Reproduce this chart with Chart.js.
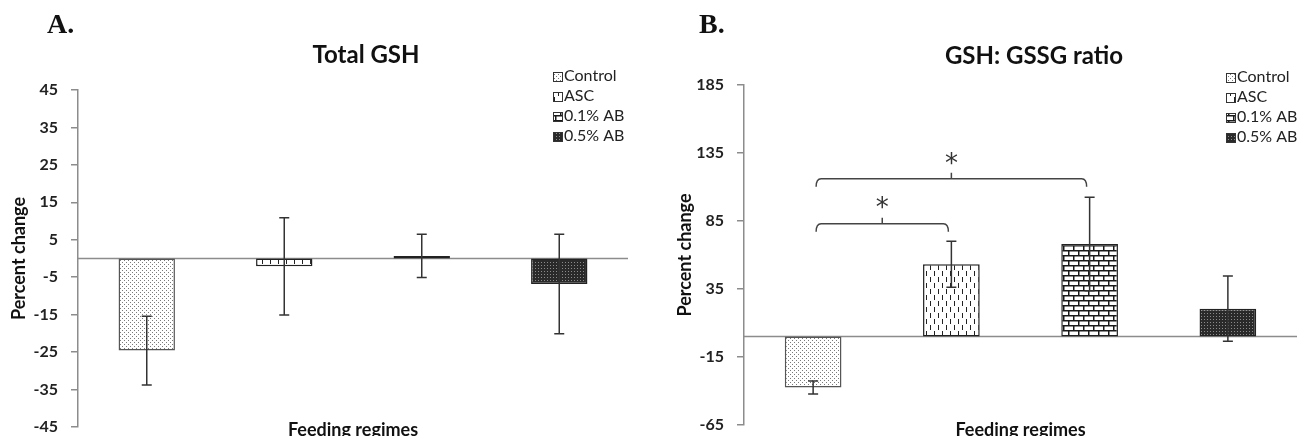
<!DOCTYPE html>
<html>
<head>
<meta charset="utf-8">
<script src="https://cdn.jsdelivr.net/npm/chart.js@4.4.0/dist/chart.umd.min.js"></script>
<style>
  html, body { margin: 0; padding: 0; background: #fff; overflow: hidden; }
  canvas { position: absolute; top: 0; }
  #chartA { left: 0; }
  #chartB { left: 648px; }
</style>
</head>
<body>
<canvas id="chartA" width="648" height="436"></canvas>
<canvas id="chartB" width="649" height="436"></canvas>
<script>
// Feeding regimes, same four groups in both panels
const regimes = ['Control', 'ASC', '0.1% AB', '0.5% AB']

// A. Total GSH (percent change, mean and SE)
const gshMean = [-24.6, -2.1, 0.7, -6.8]
const gshErr = [9.2, 13, 5.8, 13.3]
const gshTicks = [45, 35, 25, 15, 5, -5, -15, -25, -35, -45]

// B. GSH:GSSG ratio
const ratioMean = [-37.4, 53.2, 68.1, 20.5]
const ratioErr = [4.8, 17, 34.3, 24]
const ratioTicks = [185, 135, 85, 35, -15, -65]

// significance brackets in panel B (category index from/to, bracket height)
const sigFrom = [0, 0]
const sigTo = [1, 2]
const sigLevel = [83, 116]

Chart.defaults.font.family = "'Lato', sans-serif"
Chart.defaults.color = '#222'

function makePattern(w, h, bg, draw) {
  const c = document.createElement('canvas')
  c.width = w
  c.height = h
  const p = c.getContext('2d')
  p.fillStyle = bg
  p.fillRect(0, 0, w, h)
  draw(p)
  return p.createPattern(c, 'repeat')
}

// hatch fills, roughly like the Excel patterns
const fills = [
  makePattern(4, 4, '#fff', p => {
    p.fillStyle = '#7a7a7a'
    p.fillRect(0, 0, 1, 1)
    p.fillRect(2, 2, 1, 1)
  }),
  makePattern(8, 12, '#fff', p => {
    p.fillStyle = '#222'
    p.fillRect(2, 1, 1, 5)
    p.fillRect(6, 7, 1, 5)
  }),
  makePattern(10, 10, '#fff', p => {
    p.fillStyle = '#1a1a1a'
    p.fillRect(0, 0, 10, 1.5)
    p.fillRect(0, 5, 10, 1.5)
    p.fillRect(0, 0, 1.5, 5)
    p.fillRect(5, 5, 1.5, 5)
  }),
  makePattern(3, 3, '#2a2a2a', p => {
    p.fillStyle = '#8a8a8a'
    p.fillRect(1, 1, 1, 1)
  })
]

function decorations(cfg) {
  return {
    id: 'decorations',
    beforeDatasetsDraw(chart) {
      const { ctx, chartArea, scales: { y } } = chart
      const y0 = y.getPixelForValue(0)
      ctx.save()
      ctx.strokeStyle = '#8c8c8c'
      ctx.lineWidth = 1.5
      ctx.beginPath()
      ctx.moveTo(chartArea.left, y0)
      ctx.lineTo(chartArea.right, y0)
      ctx.stroke()
      ctx.restore()
    },
    afterDatasetsDraw(chart) {
      const { ctx, scales: { x, y } } = chart
      const mean = chart.data.datasets[0].data
      ctx.save()
      ctx.strokeStyle = '#333'
      ctx.lineWidth = 1.5
      mean.forEach((m, i) => {
        const cx = x.getPixelForValue(i)
        const top = y.getPixelForValue(m + cfg.err[i])
        const bot = y.getPixelForValue(m - cfg.err[i])
        ctx.beginPath()
        ctx.moveTo(cx, top); ctx.lineTo(cx, bot)
        ctx.moveTo(cx - 5, top); ctx.lineTo(cx + 5, top)
        ctx.moveTo(cx - 5, bot); ctx.lineTo(cx + 5, bot)
        ctx.stroke()
      })

      // brackets with asterisks
      ctx.strokeStyle = '#444'
      ctx.lineWidth = 1.5
      ctx.fillStyle = '#333'
      ctx.font = "26px 'DejaVu Sans'"
      ctx.textAlign = 'center'
      ctx.textBaseline = 'middle'
      ;(cfg.sigFrom || []).forEach((f, k) => {
        const x1 = x.getPixelForValue(f) + 3
        const x2 = x.getPixelForValue(cfg.sigTo[k]) - 3
        const yl = y.getPixelForValue(cfg.sigLevel[k])
        const mid = (x1 + x2) / 2
        ctx.beginPath()
        ctx.moveTo(x1, yl + 8)
        ctx.quadraticCurveTo(x1, yl, x1 + 5, yl)
        ctx.lineTo(x2 - 5, yl)
        ctx.quadraticCurveTo(x2, yl, x2, yl + 8)
        ctx.moveTo(mid, yl)
        ctx.lineTo(mid, yl - 6)
        ctx.stroke()
        ctx.fillText('*', mid, yl - 14)
      })
      ctx.restore()
    },
    afterDraw(chart) {
      const { ctx, chartArea } = chart
      ctx.save()
      ctx.fillStyle = '#111'
      ctx.textBaseline = 'middle'
      ctx.textAlign = 'left'
      ctx.font = "bold 28px 'Liberation Serif'"
      ctx.fillText(cfg.letter, cfg.letterX, 26)

      ctx.textAlign = 'center'
      ctx.font = "bold 24px 'Lato'"
      ctx.fillText(cfg.title, cfg.titleX, cfg.titleY)

      ctx.font = "bold 18px 'Lato'"
      ctx.textBaseline = 'alphabetic'
      ctx.fillText('Feeding regimes', (chartArea.left + chartArea.right) / 2, 436)

      ctx.save()
      ctx.translate(cfg.yTitleX, (chartArea.top + chartArea.bottom) / 2)
      ctx.rotate(-Math.PI / 2)
      ctx.textBaseline = 'middle'
      ctx.fillText('Percent change', 0, 0)
      ctx.restore()

      // legend
      ctx.textAlign = 'left'
      ctx.textBaseline = 'middle'
      ctx.font = "16px 'Lato'"
      regimes.forEach((r, i) => {
        const ly = cfg.legendY + i * 20
        ctx.fillStyle = fills[i]
        ctx.fillRect(cfg.legendX, ly - 4, 9, 9)
        ctx.strokeStyle = '#333'
        ctx.lineWidth = 1
        ctx.strokeRect(cfg.legendX + 0.5, ly - 3.5, 9, 9)
        ctx.fillStyle = '#222'
        ctx.fillText(r, cfg.legendX + 11, ly)
      })
      ctx.restore()
    }
  }
}

function buildChart(id, mean, ticks, axisWidth, padding, cfg) {
  return new Chart(document.getElementById(id), {
    type: 'bar',
    data: {
      labels: regimes,
      datasets: [{
        data: mean,
        backgroundColor: fills,
        borderColor: ['#555', '#222', '#222', '#222'],
        borderWidth: 1.5,
        borderSkipped: false,
        categoryPercentage: 1,
        barPercentage: 0.41
      }]
    },
    options: {
      responsive: false,
      animation: false,
      layout: { padding: padding },
      plugins: {
        legend: { display: false },
        tooltip: { enabled: false }
      },
      scales: {
        x: { display: false },
        y: {
          min: Math.min(...ticks),
          max: Math.max(...ticks),
          afterBuildTicks: s => { s.ticks = ticks.map(v => ({ value: v })) },
          afterFit: s => {
            s.width = axisWidth
            // let layout padding alone decide the plot top/bottom
            s.paddingTop = 0
            s.paddingBottom = 0
          },
          border: { display: true, color: '#8c8c8c', width: 1.5 },
          grid: { drawOnChartArea: false, drawTicks: true, tickLength: 7, color: '#8c8c8c', lineWidth: 1.5 },
          ticks: {
            padding: 13,
            color: '#222',
            font: { size: 16, weight: 'bold' }
          }
        }
      }
    },
    plugins: [decorations(cfg)]
  })
}

buildChart('chartA', gshMean, gshTicks, 78, { top: 90, bottom: 9, left: 0, right: 20 }, {
  err: gshErr, letter: 'A.', letterX: 47, title: 'Total GSH', titleX: 366, titleY: 55,
  yTitleX: 19, legendX: 553, legendY: 76
})

buildChart('chartB', ratioMean, ratioTicks, 96, { top: 85, bottom: 11, left: 0, right: 0 }, {
  err: ratioErr, letter: 'B.', letterX: 51, title: 'GSH: GSSG ratio', titleX: 386, titleY: 56,
  yTitleX: 37, legendX: 578, legendY: 77,
  sigFrom: sigFrom, sigTo: sigTo, sigLevel: sigLevel
})
</script>
</body>
</html>
